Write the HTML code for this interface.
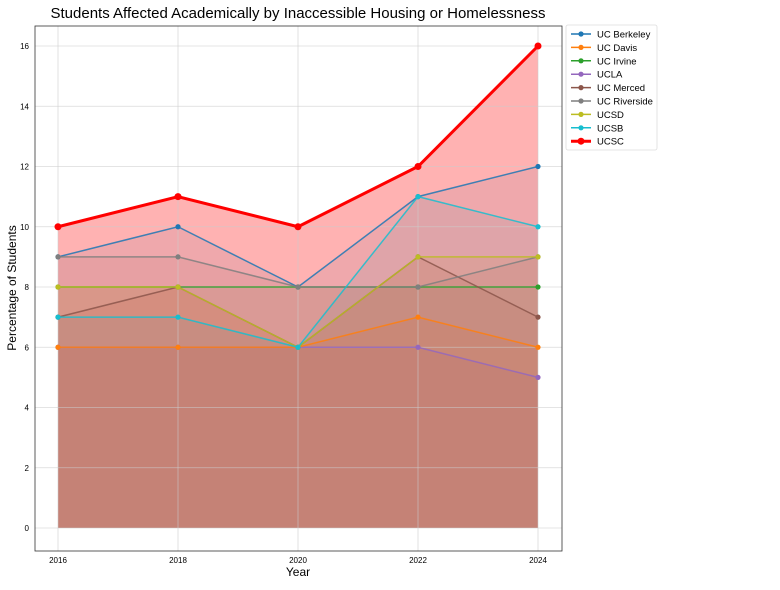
<!DOCTYPE html>
<html><head><meta charset="utf-8"><style>
body{margin:0;background:#fff;font-family:"Liberation Sans",sans-serif}
</style></head><body>
<svg width="780" height="585" xmlns="http://www.w3.org/2000/svg" id="chart" font-family="Liberation Sans, sans-serif">
<text x="298" y="18" text-anchor="middle" font-size="15" fill="#000">Students Affected Academically by Inaccessible Housing or Homelessness</text>
<g id="areas"></g><g id="grid"></g><g id="series"></g>
<rect x="35" y="26" width="527" height="525" fill="none" stroke="#333" stroke-width="0.8"/>
<g id="ticks"></g>
<text x="298" y="576" text-anchor="middle" font-size="12">Year</text>
<text x="16" y="288" text-anchor="middle" font-size="12" transform="rotate(-90 16 288)">Percentage of Students</text>
<g id="legend"></g>
</svg>
<script>
const years=[2016,2018,2020,2022,2024];
const yTicks=[0,2,4,6,8,10,12,14,16];
const names=["UC Berkeley","UC Davis","UC Irvine","UCLA","UC Merced","UC Riverside","UCSD","UCSB","UCSC"];
const colors=["#1f77b4","#ff7f0e","#2ca02c","#9467bd","#8c564b","#7f7f7f","#bcbd22","#17becf","#ff0000"];
const berkeley=[9,10,8,11,12];
const davis=[6,6,6,7,6];
const irvine=[8,8,8,8,8];
const ucla=[6,6,6,6,5];
const merced=[7,8,6,9,7];
const riverside=[9,9,8,8,9];
const ucsd=[8,8,6,9,9];
const ucsb=[7,7,6,11,10];
const ucsc=[10,11,10,12,16];
const values=[berkeley,davis,irvine,ucla,merced,riverside,ucsd,ucsb,ucsc];
const drawOrder=[0,3,1,2,4,5,6,7,8];
const NS="http://www.w3.org/2000/svg";
const X=v=>58+(v-2016)*(480/8);
const Y=v=>528-v*(482/16);
function mk(t,a,p){const e=document.createElementNS(NS,t);for(const k in a)e.setAttribute(k,a[k]);p.appendChild(e);return e;}
const grid=document.getElementById('grid'),ticks=document.getElementById('ticks');
years.forEach(y=>{
 const l=mk('line',{x1:X(y),x2:X(y),y1:26,y2:551,stroke:'#ccc','stroke-width':0.8,'stroke-opacity':0.7},grid);
 
 
 const t=mk('text',{x:X(y),y:563,'text-anchor':'middle','font-size':8},ticks);t.textContent=y;
 
 
});
yTicks.forEach(v=>{
 const l=mk('line',{x1:35,x2:562,y1:Y(v),y2:Y(v),stroke:'#ccc','stroke-width':0.8,'stroke-opacity':0.7},grid);
 
 
 const t=mk('text',{x:29,y:Y(v)+3,'text-anchor':'end','font-size':8},ticks);t.textContent=v;
 
 
});
const ag=document.getElementById('areas');
const sg=document.getElementById('series');
values.forEach((vals,i)=>{
 const big=i===8;
 const pts=vals.map((v,j)=>X(years[j])+','+Y(v)).join(' ');
 const area=mk('polygon',{points:X(years[0])+','+Y(0)+' '+pts+' '+X(years[years.length-1])+','+Y(0),fill:colors[i],'fill-opacity':big?0.3:0.1},ag);
 
 
});
drawOrder.forEach(i=>{
 const vals=values[i];
 const big=i===8;
 const pts=vals.map((v,j)=>X(years[j])+','+Y(v)).join(' ');
 const ln=mk('polyline',{points:pts,fill:'none',stroke:colors[i],'stroke-width':big?3:1.5,'stroke-opacity':big?1:0.85},sg);
 
 
 vals.forEach((v,j)=>{
  const c=mk('circle',{cx:X(years[j]),cy:Y(v),r:big?3.5:2.6,fill:colors[i]},sg);
  
  
 });
});
const lg=document.getElementById('legend');
const box=mk('rect',{x:566,y:25,width:91,height:125,fill:'#fff',stroke:'#ddd','stroke-width':0.8,rx:2},lg);


names.forEach((n,i)=>{
 const y=34+i*13.4,big=i===8;
 const g=mk('g',{},lg);
 
 
 mk('line',{x1:571,x2:591,y1:y,y2:y,stroke:colors[i],'stroke-width':big?3:1.5},g);
 mk('circle',{cx:581,cy:y,r:big?3.5:2.6,fill:colors[i]},g);
 const t=mk('text',{x:597,y:y+3.5,'font-size':9.5},g);t.textContent=n;
});
</script>
</body></html>
